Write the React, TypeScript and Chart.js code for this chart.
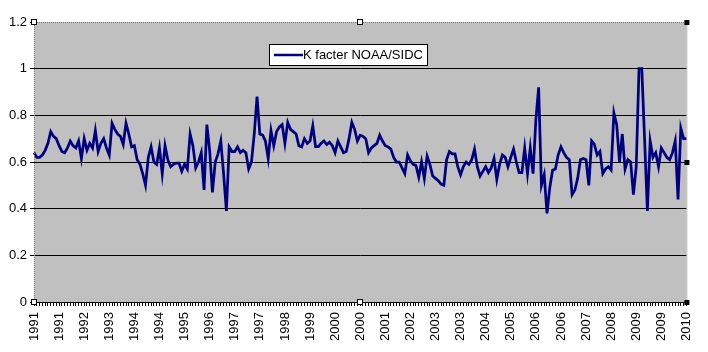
import { useEffect, useRef } from "react";
import { Chart, registerables } from "chart.js";

Chart.register(...registerables);

const SERIES_NAME = "K facter NOAA/SIDC";

const TICK_LABELS = [
  "1991", "1991", "1992", "1993", "1994", "1994", "1995", "1996", "1997",
  "1997", "1998", "1999", "2000", "2000", "2001", "2002", "2003", "2003",
  "2004", "2005", "2006", "2006", "2007", "2008", "2009", "2009", "2010",
];
const LABEL_STEP = 9;

const K_FACTOR = [
  0.64, 0.62, 0.62, 0.63, 0.65, 0.68, 0.73, 0.71, 0.70, 0.67,
  0.645, 0.64, 0.66, 0.69, 0.67, 0.66, 0.69, 0.615, 0.70, 0.65,
  0.68, 0.66, 0.735, 0.645, 0.68, 0.70, 0.66, 0.63, 0.766, 0.74,
  0.72, 0.71, 0.675, 0.766, 0.72, 0.665, 0.67, 0.61, 0.59, 0.55,
  0.50, 0.62, 0.665, 0.60, 0.59, 0.66, 0.55, 0.67, 0.61, 0.58,
  0.59, 0.595, 0.595, 0.56, 0.59, 0.57, 0.72, 0.67, 0.575, 0.60,
  0.64, 0.48, 0.76, 0.65, 0.47, 0.60, 0.635, 0.69, 0.55, 0.39,
  0.665, 0.645, 0.645, 0.665, 0.64, 0.65, 0.64, 0.57, 0.60, 0.72,
  0.88, 0.72, 0.715, 0.69, 0.615, 0.735, 0.67, 0.73, 0.75, 0.76,
  0.68, 0.77, 0.74, 0.73, 0.72, 0.67, 0.665, 0.70, 0.68, 0.69,
  0.755, 0.666, 0.666, 0.68, 0.69, 0.675, 0.685, 0.67, 0.64, 0.69,
  0.665, 0.64, 0.645, 0.70, 0.77, 0.74, 0.69, 0.715, 0.71, 0.70,
  0.64, 0.66, 0.67, 0.68, 0.715, 0.69, 0.67, 0.665, 0.655, 0.62,
  0.60, 0.60, 0.575, 0.55, 0.63, 0.605, 0.59, 0.585, 0.535, 0.60,
  0.53, 0.625, 0.59, 0.54, 0.53, 0.52, 0.505, 0.50, 0.61, 0.645,
  0.635, 0.635, 0.58, 0.545, 0.58, 0.60, 0.59, 0.61, 0.655, 0.58,
  0.54, 0.56, 0.58, 0.555, 0.575, 0.615, 0.525, 0.59, 0.63, 0.62,
  0.58, 0.62, 0.655, 0.60, 0.555, 0.555, 0.66, 0.55, 0.66, 0.55,
  0.78, 0.92, 0.50, 0.545, 0.38, 0.49, 0.565, 0.57, 0.63, 0.665,
  0.64, 0.62, 0.61, 0.46, 0.48, 0.53, 0.61, 0.615, 0.61, 0.50,
  0.69, 0.675, 0.63, 0.645, 0.55, 0.57, 0.58, 0.565, 0.81, 0.76,
  0.60, 0.72, 0.57, 0.61, 0.60, 0.46, 0.58, 1.0, 1.0, 0.70,
  0.39, 0.69, 0.62, 0.64, 0.58, 0.66, 0.64, 0.62, 0.61, 0.64,
  0.69, 0.44, 0.745, 0.70, 0.70,
];

const Y_MIN = 0;
const Y_MAX = 1.2;
const Y_STEP = 0.2;

const CATEGORIES = K_FACTOR.map((_, i) =>
  i % LABEL_STEP === 0 ? TICK_LABELS[i / LABEL_STEP] ?? "" : ""
);

const FONT_FAMILY = "'Liberation Sans', Arial, sans-serif";
const LINE_COLOR = "#000080";
const PLOT_BG = "#C0C0C0";

const plotPlugin = {
  id: "excelLook",
  beforeDraw(chart: any) {
    const { ctx, chartArea: a } = chart;
    ctx.save();
    ctx.fillStyle = PLOT_BG;
    ctx.fillRect(a.left, a.top, a.right - a.left, a.bottom - a.top);
    ctx.restore();
  },
  afterDraw(chart: any) {
    const { ctx, chartArea: a } = chart;
    ctx.save();
    ctx.strokeStyle = "#808080";
    ctx.lineWidth = 1;
    ctx.setLineDash([1, 1]);
    ctx.beginPath();
    ctx.moveTo(a.left + 0.5, a.bottom);
    ctx.lineTo(a.left + 0.5, a.top + 0.5);
    ctx.lineTo(a.right + 0.5, a.top + 0.5);
    ctx.lineTo(a.right + 0.5, a.bottom);
    ctx.stroke();
    ctx.setLineDash([]);

    const lx = a.left + 235;
    const ly = a.top + 22;
    const lw = 158;
    const lh = 21;
    ctx.fillStyle = "#FFFFFF";
    ctx.fillRect(lx, ly, lw, lh);
    ctx.strokeStyle = "#000000";
    ctx.lineWidth = 1;
    ctx.strokeRect(lx + 0.5, ly + 0.5, lw, lh);
    ctx.strokeStyle = LINE_COLOR;
    ctx.lineWidth = 2.5;
    ctx.beginPath();
    ctx.moveTo(lx + 5, ly + lh / 2 + 0.5);
    ctx.lineTo(lx + 34, ly + lh / 2 + 0.5);
    ctx.stroke();
    ctx.fillStyle = "#000000";
    ctx.font = `13px ${FONT_FAMILY}`;
    ctx.textBaseline = "middle";
    ctx.textAlign = "left";
    ctx.fillText(SERIES_NAME, lx + 34, ly + lh / 2 + 1);

    const cx = Math.round((a.left + a.right) / 2);
    const cy = Math.round((a.top + a.bottom) / 2);
    ctx.fillStyle = "#000000";
    [
      [a.right, a.top],
      [a.right, cy],
      [a.right, a.bottom],
    ].forEach(([x, y]) => ctx.fillRect(x - 2, y - 2, 5, 5));
    ctx.strokeStyle = "#000000";
    ctx.lineWidth = 1;
    [
      [a.left, a.top],
      [cx, a.top],
      [cx, a.bottom],
      [a.left, a.bottom],
    ].forEach(([x, y]) => {
      ctx.fillStyle = "#FFFFFF";
      ctx.fillRect(x - 2, y - 2, 4, 4);
      ctx.strokeRect(x - 2.5, y - 2.5, 5, 5);
    });
    ctx.restore();
  },
};

export default function App() {
  const canvasRef = useRef<HTMLCanvasElement | null>(null);

  useEffect(() => {
    document.body.style.margin = "0";
    const canvas = canvasRef.current;
    if (!canvas) return;
    const chart = new Chart(canvas, {
      type: "line",
      data: {
        labels: CATEGORIES,
        datasets: [
          {
            label: SERIES_NAME,
            data: K_FACTOR,
            borderColor: LINE_COLOR,
            backgroundColor: LINE_COLOR,
            borderWidth: 2.75,
            pointRadius: 0,
            tension: 0,
            fill: false,
          },
        ],
      },
      options: {
        responsive: false,
        animation: false,
        devicePixelRatio: 1,
        layout: { padding: { top: 22, right: 21, left: 0, bottom: 0 } },
        plugins: {
          legend: { display: false },
          tooltip: { enabled: false },
        },
        scales: {
          x: {
            type: "category",
            offset: false,
            afterFit(scale: any) {
              scale.height = 50;
            },
            grid: {
              display: true,
              drawOnChartArea: false,
              drawTicks: true,
              tickLength: 4,
              color: "#000000",
              offset: false,
            },
            border: { display: false },
            ticks: {
              autoSkip: false,
              minRotation: 90,
              maxRotation: 90,
              padding: 6,
              color: "#000000",
              font: { family: FONT_FAMILY, size: 13 },
            },
          },
          y: {
            min: Y_MIN,
            max: Y_MAX,
            afterFit(scale: any) {
              scale.width = 34;
            },
            grid: {
              color: (c: any) =>
                c.tick && Math.abs(c.tick.value - Y_MAX) < 1e-6 ? "rgba(0,0,0,0)" : "#000000",
              tickColor: "#000000",
              tickLength: 4,
              lineWidth: 1,
            },
            border: { display: false },
            ticks: {
              stepSize: Y_STEP,
              padding: 3,
              color: "#000000",
              font: { family: FONT_FAMILY, size: 13 },
              callback: (v: any) => String(Number(Number(v).toFixed(1))),
            },
          },
        },
      },
      plugins: [plotPlugin],
    });
    return () => chart.destroy();
  }, []);

  return (
    <div style={{ width: 708, height: 352, background: "#FFFFFF" }}>
      <canvas ref={canvasRef} width={708} height={352} style={{ display: "block" }} />
    </div>
  );
}
